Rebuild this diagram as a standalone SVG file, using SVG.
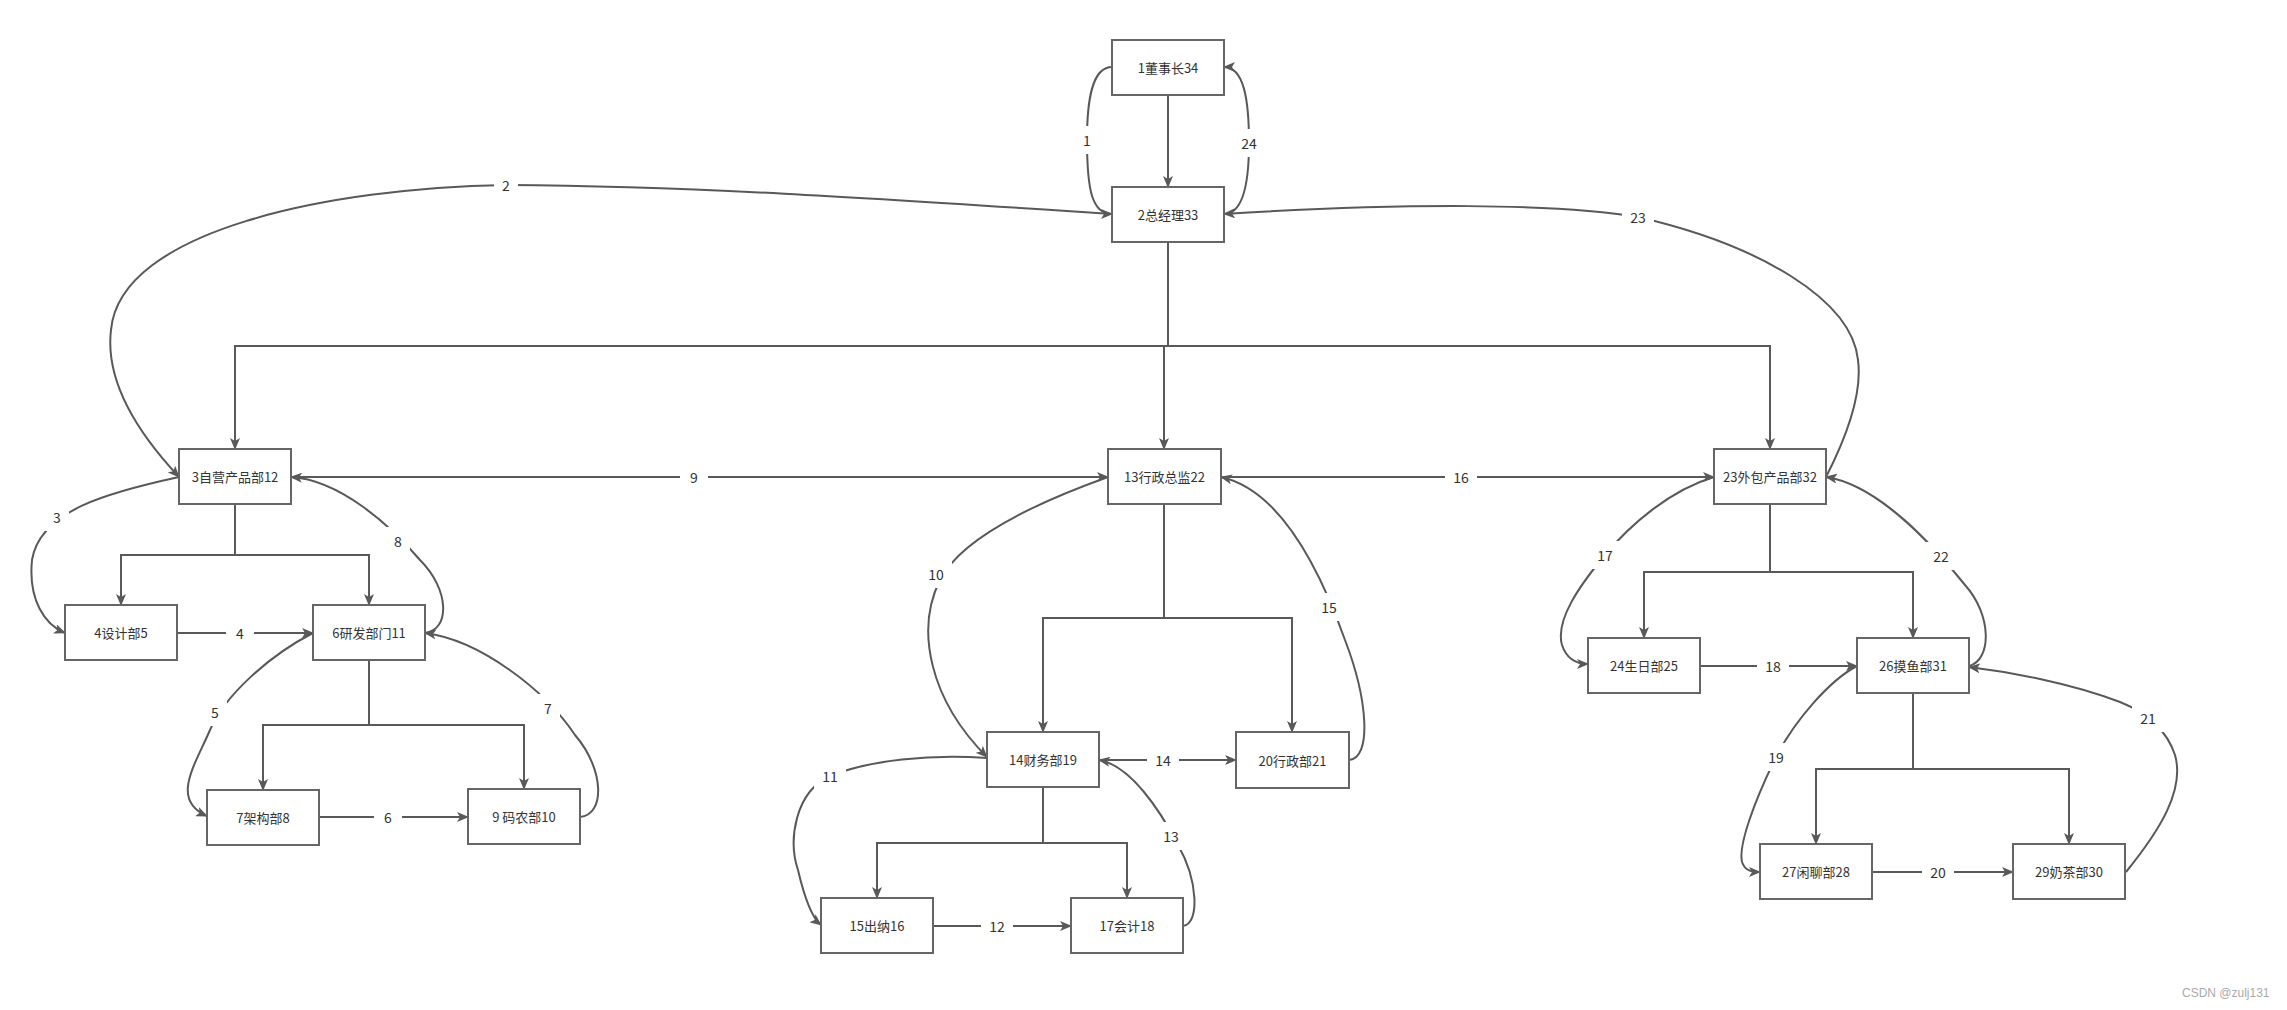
<svg xmlns="http://www.w3.org/2000/svg" width="2287" height="1010" viewBox="0 0 2287 1010">
<style>
.node rect{fill:#ffffff;stroke:#666666;stroke-width:2}
.node text{font-family:"Noto Sans CJK SC","Microsoft YaHei",sans-serif;font-size:13px;fill:#333333;text-anchor:middle;dominant-baseline:central}
.edges path{fill:none;stroke:#595959;stroke-width:2;marker-end:url(#arr)}
.lbl rect{fill:#ffffff;stroke:none}
.lbl text{font-family:"Noto Sans CJK SC","Microsoft YaHei",sans-serif;font-size:14px;fill:#333333;text-anchor:middle;dominant-baseline:central}
.wm{font-family:"Liberation Sans",Arial,sans-serif;font-size:12px;fill:#aaaaaa}
</style>
<defs>
<marker id="arr" viewBox="0 0 12 10" refX="11" refY="5" markerWidth="12" markerHeight="10" markerUnits="userSpaceOnUse" orient="auto">
<path d="M0,0 L12,5 L0,10 L3,5 z" fill="#595959"/>
</marker>
</defs>
<rect x="0" y="0" width="2287" height="1010" fill="#ffffff"/>
<g id="connectors" class="edges">
<path d="M1168,95 V187"/>
<path d="M1168,242 V346 H235 V449"/>
<path d="M1168,242 V346 H1164 V449"/>
<path d="M1168,242 V346 H1770 V449"/>
<path d="M235,505 V555 H121 V605"/>
<path d="M235,505 V555 H369 V605"/>
<path d="M369,661 V725 H263 V790"/>
<path d="M369,661 V725 H524 V789"/>
<path d="M1164,505 V618 H1043 V732"/>
<path d="M1164,505 V618 H1292 V732"/>
<path d="M1043,787 V843 H877 V898"/>
<path d="M1043,787 V843 H1127 V898"/>
<path d="M1770,505 V572 H1644 V638"/>
<path d="M1770,505 V572 H1913 V638"/>
<path d="M1913,693 V769 H1816 V844"/>
<path d="M1913,693 V769 H2069 V844"/>
<path d="M1112,67 C1092,67 1087,100 1087,140 C1087,190 1092,214 1112,214"/>
<path d="M1112,214 C900,200 700,186 506,185 C330,188 120,230 111,330 C105,380 135,430 179,477"/>
<path d="M179,477 C110,492 40,510 32,560 C28,600 45,625 65,633"/>
<path d="M177,633 H313"/>
<path d="M313,633 C270,655 225,695 210,730 C195,765 170,800 207,816"/>
<path d="M319,817 H468"/>
<path d="M580,817 C605,815 605,770 575,735 C545,690 480,640 425,633"/>
<path d="M425,633 C450,630 450,590 420,560 C390,525 340,480 291,477"/>
<path d="M291,477 H1108"/>
<path d="M1108,477 C1030,505 960,540 940,580 C915,630 930,700 987,757"/>
<path d="M987,758 C930,754 870,760 830,776 C795,792 788,840 798,870 C805,900 812,918 821,925"/>
<path d="M933,926 H1071"/>
<path d="M1183,926 C1200,924 1198,880 1178,845 C1160,810 1130,765 1099,760"/>
<path d="M1099,760 H1236"/>
<path d="M1349,760 C1372,758 1368,700 1345,640 C1320,570 1280,490 1221,477"/>
<path d="M1221,477 H1714"/>
<path d="M1714,477 C1670,490 1630,525 1605,555 C1580,585 1555,620 1562,645 C1567,660 1578,664 1588,664"/>
<path d="M1700,666 H1857"/>
<path d="M1857,666 C1830,680 1795,720 1776,757 C1755,800 1738,845 1742,862 C1745,871 1752,872 1760,872"/>
<path d="M1872,872 H2013"/>
<path d="M2126,872 C2160,830 2185,790 2175,755 C2165,725 2140,710 2120,702 C2070,683 2010,672 1969,667"/>
<path d="M1969,666 C1992,660 1992,615 1965,585 C1935,548 1880,485 1826,477"/>
<path d="M1826,477 C1850,430 1862,390 1858,360 C1852,300 1760,245 1638,217 C1560,203 1400,203 1224,214"/>
<path d="M1224,214 C1244,214 1249,180 1249,143 C1249,100 1244,67 1224,67"/>
</g>
<g id="edge-labels" class="lbl">
<rect x="1075" y="126" width="24" height="28"/><text x="1087" y="140">1</text>
<rect x="1233" y="129" width="32" height="28"/><text x="1249" y="143">24</text>
<rect x="494" y="171" width="24" height="28"/><text x="506" y="185">2</text>
<rect x="1622" y="203" width="32" height="28"/><text x="1638" y="217">23</text>
<rect x="45" y="503" width="24" height="28"/><text x="57" y="517">3</text>
<rect x="226" y="619" width="28" height="28"/><text x="240" y="633">4</text>
<rect x="203" y="698" width="24" height="28"/><text x="215" y="712">5</text>
<rect x="374" y="803" width="28" height="28"/><text x="388" y="817">6</text>
<rect x="536" y="694" width="24" height="28"/><text x="548" y="708">7</text>
<rect x="386" y="527" width="24" height="28"/><text x="398" y="541">8</text>
<rect x="680" y="463" width="28" height="28"/><text x="694" y="477">9</text>
<rect x="920" y="560" width="32" height="28"/><text x="936" y="574">10</text>
<rect x="814" y="762" width="32" height="28"/><text x="830" y="776">11</text>
<rect x="981" y="912" width="32" height="28"/><text x="997" y="926">12</text>
<rect x="1155" y="822" width="32" height="28"/><text x="1171" y="836">13</text>
<rect x="1147" y="746" width="32" height="28"/><text x="1163" y="760">14</text>
<rect x="1313" y="593" width="32" height="28"/><text x="1329" y="607">15</text>
<rect x="1445" y="463" width="32" height="28"/><text x="1461" y="477">16</text>
<rect x="1589" y="541" width="32" height="28"/><text x="1605" y="555">17</text>
<rect x="1757" y="652" width="32" height="28"/><text x="1773" y="666">18</text>
<rect x="1760" y="743" width="32" height="28"/><text x="1776" y="757">19</text>
<rect x="1922" y="858" width="32" height="28"/><text x="1938" y="872">20</text>
<rect x="2132" y="704" width="32" height="28"/><text x="2148" y="718">21</text>
<rect x="1925" y="542" width="32" height="28"/><text x="1941" y="556">22</text>
</g>
<g id="n1" class="node"><rect x="1112" y="40" width="112" height="55"/><text x="1168" y="67.5">1董事长34</text></g>
<g id="n2" class="node"><rect x="1112" y="187" width="112" height="55"/><text x="1168" y="214.5">2总经理33</text></g>
<g id="n3" class="node"><rect x="179" y="449" width="112" height="55"/><text x="235" y="476.5">3自营产品部12</text></g>
<g id="n13" class="node"><rect x="1108" y="449" width="113" height="55"/><text x="1164.5" y="476.5">13行政总监22</text></g>
<g id="n23" class="node"><rect x="1714" y="449" width="112" height="55"/><text x="1770" y="476.5">23外包产品部32</text></g>
<g id="n4" class="node"><rect x="65" y="605" width="112" height="55"/><text x="121" y="632.5">4设计部5</text></g>
<g id="n6" class="node"><rect x="313" y="605" width="112" height="55"/><text x="369" y="632.5">6研发部门11</text></g>
<g id="n7" class="node"><rect x="207" y="790" width="112" height="55"/><text x="263" y="817.5">7架构部8</text></g>
<g id="n9" class="node"><rect x="468" y="789" width="112" height="55"/><text x="524" y="816.5" xml:space="preserve">9 码农部10</text></g>
<g id="n14" class="node"><rect x="987" y="732" width="112" height="55"/><text x="1043" y="759.5">14财务部19</text></g>
<g id="n20" class="node"><rect x="1236" y="732" width="113" height="56"/><text x="1292.5" y="760">20行政部21</text></g>
<g id="n15" class="node"><rect x="821" y="898" width="112" height="55"/><text x="877" y="925.5">15出纳16</text></g>
<g id="n17" class="node"><rect x="1071" y="898" width="112" height="55"/><text x="1127" y="925.5">17会计18</text></g>
<g id="n24" class="node"><rect x="1588" y="638" width="112" height="55"/><text x="1644" y="665.5">24生日部25</text></g>
<g id="n26" class="node"><rect x="1857" y="638" width="112" height="55"/><text x="1913" y="665.5">26摸鱼部31</text></g>
<g id="n27" class="node"><rect x="1760" y="844" width="112" height="55"/><text x="1816" y="871.5">27闲聊部28</text></g>
<g id="n29" class="node"><rect x="2013" y="844" width="112" height="55"/><text x="2069" y="871.5">29奶茶部30</text></g>
<text class="wm" x="2182" y="997">CSDN @zulj131</text>
</svg>
